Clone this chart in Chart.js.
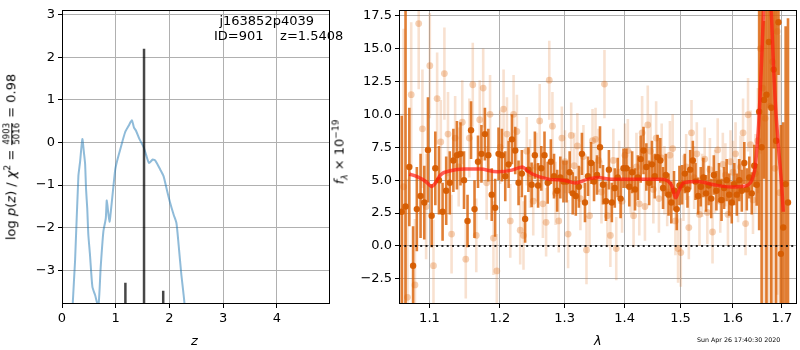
<!DOCTYPE html>
<html lang="en">
<head>
<meta charset="UTF-8">
<title>j163852p4039 redshift fit</title>
<script src="https://cdn.jsdelivr.net/npm/chart.js"></script>
<style>
  body { margin: 0; background: #fff; }
  #wrap { position: relative; width: 800px; height: 350px; font-family: 'DejaVu Sans', sans-serif; color: #000; }
  canvas { position: absolute; top: 0; }
  .lbl { position: absolute; white-space: nowrap; font-size: 13px; }
  .rot { transform: translate(-50%, -50%) rotate(-90deg); }
  .frac { display: inline-flex; flex-direction: column; vertical-align: middle; font-size: 8.5px; line-height: 9px; text-align: center; margin: 0 1px; }
  .frac span:first-child { border-bottom: 1px solid #000; }
  sup, sub { font-size: 9px; }
</style>
</head>
<body>
<div id="wrap">
  <canvas id="pzChart" width="340" height="350" style="left:0"></canvas>
  <canvas id="specChart" width="460" height="350" style="left:340px"></canvas>

  <div class="lbl rot" style="left:12px; top:157px;">log <i>p</i>(<i>z</i>) / <i>χ</i><sup>2</sup> = <span class="frac"><span>4903</span><span>5016</span></span> = 0.98</div>
  <div class="lbl" style="left:191px; top:333px;"><i>z</i></div>
  <div class="lbl" style="left:214px; top:13px; width:100px; text-align:right; line-height:15px; white-space:pre;">j163852p4039
ID=901    z=1.5408</div>

  <div class="lbl rot" style="left:340px; top:152px;"><i>f</i><sub><i>λ</i></sub> × 10<sup>−19</sup></div>
  <div class="lbl" style="left:594px; top:333px;"><i>λ</i></div>
  <div class="lbl" style="left:697px; top:336px; font-size:6.3px;">Sun Apr 26 17:40:30 2020</div>
</div>

<script>
// ---- p(z) panel ----
const zGrid = [0.15, 0.20, 0.243, 0.305, 0.336, 0.379, 0.41, 0.43, 0.448, 0.47, 0.49, 0.52, 0.566, 0.616, 0.677,
  0.72, 0.77, 0.815, 0.834, 0.883, 0.927, 0.99, 1.03, 1.08, 1.175, 1.24, 1.30, 1.34, 1.38, 1.44, 1.52, 1.57,
  1.62, 1.69, 1.74, 1.83, 1.89, 1.95, 2.01, 2.08, 2.13, 2.17, 2.22, 2.28, 2.33];
const logPz = [-5.5, -3.78, -2.78, -0.79, -0.46, 0.08, -0.26, -0.5, -1.10, -1.55, -2.16, -2.62, -3.39, -3.58, -3.85,
  -2.93, -2.09, -1.78, -1.36, -1.86, -1.40, -0.64, -0.41, -0.18, 0.24, 0.39, 0.52, 0.35, 0.27, 0.085, -0.11, -0.31,
  -0.48, -0.40, -0.43, -0.64, -0.79, -1.10, -1.40, -1.70, -1.89, -2.39, -3.08, -3.78, -5.0];
const zTicks = [0, 1, 2, 3, 4];
const pzTicks = [-3, -2, -1, 0, 1, 2, 3];

// sharp peaks of the fitted p(z)
const peakZ = [1.18, 1.527, 1.884];
const peakTop = [-3.29, 2.2, -3.48];

// ---- spectrum panel ----
const waveDark = [1.063, 1.068, 1.073, 1.078, 1.083, 1.088, 1.093, 1.098,
  1.103, 1.108, 1.113, 1.118, 1.123, 1.128, 1.133, 1.138, 1.143, 1.148, 1.153, 1.158, 1.163, 1.168, 1.173, 1.178, 1.183, 1.188, 1.193, 1.198,
  1.203, 1.208, 1.213, 1.218, 1.223, 1.228, 1.233, 1.238, 1.243, 1.248, 1.253, 1.258, 1.263, 1.268, 1.273, 1.278, 1.283, 1.288, 1.293, 1.298,
  1.303, 1.308, 1.313, 1.318, 1.323, 1.328, 1.333, 1.338, 1.343, 1.348, 1.353, 1.358, 1.363, 1.368, 1.373, 1.378, 1.383, 1.388, 1.393, 1.398,
  1.403, 1.408, 1.413, 1.418, 1.423, 1.428, 1.433, 1.438, 1.443, 1.448, 1.453, 1.458, 1.463, 1.468, 1.473, 1.478, 1.483, 1.488, 1.493, 1.498,
  1.503, 1.508, 1.513, 1.518, 1.523, 1.528, 1.533, 1.538, 1.543, 1.548, 1.553, 1.558, 1.563, 1.568, 1.573, 1.578, 1.583, 1.588, 1.593, 1.598,
  1.603, 1.608, 1.613, 1.618, 1.623, 1.628, 1.633, 1.638, 1.643, 1.648, 1.653, 1.658, 1.663, 1.668, 1.673, 1.678, 1.683, 1.688, 1.693, 1.698,
  1.703, 1.708, 1.713];
const fluxDark = [2.6, 3.0, 6.0, -1.5, 2.8, 3.8, 3.3, 7.3,
  2.3, 5.9, 5.0, 2.6, 4.2, 4.8, 6.5, 6.9, 7.0, 5.0, 1.9, 8.8, 2.8, 6.4, 7.0, 8.5, 6.9, 3.9, 2.9, 7.0,
  6.9, 5.3, 6.2, 8.1, 7.25, 4.8, 5.5, 2.05, 5.8, 4.65, 6.9, 4.6, 5.9, 6.9, 4.8, 6.4, 5.3, 4.2, 5.2, 4.9,
  4.9, 5.6, 4.0, 3.8, 4.5, 7.0, 3.3, 5.3, 6.3, 4.9, 5.4, 7.5, 4.65, 3.4, 5.8, 3.3, 4.4, 5.2, 3.6, 5.9,
  5.9, 4.5, 5.6, 4.3, 5.2, 6.6, 7.25, 6.0, 4.8, 6.2, 5.3, 6.75, 6.5, 4.4, 5.4, 3.9, 3.3, 4.2, 2.8, 4.6,
  4.65, 5.5, 4.3, 5.8, 6.5, 4.9, 3.8, 4.5, 5.2, 4.0, 4.6, 3.6, 5.4, 4.2, 4.8, 3.5, 4.4, 5.0, 3.9, 3.3,
  4.7, 3.9, 5.0, 4.2, 6.3, 4.3, 5.2, 4.0, 6.1, 4.65, 10.2, 7.5, 11.1, 11.5, 15.5, 10.5, 13.4, 8.0, 17.0, -0.6,
  1.4, 4.7, 3.3];
const errDark = [7.3, 25, 4.5, 3.0, 3.2, 3.2, 2.8, 4.0,
  2.4, 2.8, 2.6, 2.2, 2.6, 2.4, 2.4, 2.6, 2.4, 2.2, 2.0, 2.2, 2.2, 2.0, 2.2, 2.0, 2.0, 2.0, 2.2, 2.0,
  2.0, 1.9, 1.8, 1.9, 1.8, 1.7, 1.8, 1.8, 1.7, 1.7, 1.8, 1.7, 1.7, 1.8, 1.6, 1.7, 1.7, 1.6, 1.6, 1.6,
  1.6, 1.6, 1.6, 1.5, 1.6, 1.6, 1.5, 1.5, 1.6, 1.5, 1.5, 1.6, 1.5, 1.5, 1.5, 1.5, 1.5, 1.5, 1.5, 1.5,
  1.5, 1.5, 1.6, 1.6, 1.7, 1.8, 1.8, 1.8, 1.7, 1.8, 1.7, 1.7, 1.7, 1.6, 1.6, 1.6, 1.6, 1.5, 1.6, 1.5,
  1.5, 1.5, 1.4, 1.5, 1.5, 1.4, 1.4, 1.5, 1.5, 1.4, 1.5, 1.5, 1.5, 1.5, 1.5, 1.6, 1.6, 1.6, 1.6, 1.6,
  1.6, 1.6, 1.6, 1.6, 1.6, 1.6, 1.6, 1.6, 1.6, 1.6, 9, 25, 6, 30, 5, 25, 6, 30, 4, 9.8,
  8, 12, 14];

const waveLight = [1.0655, 1.0705, 1.0755, 1.0805, 1.0855, 1.0905, 1.0955, 1.1005,
  1.1055, 1.1105, 1.1155, 1.1205, 1.1255, 1.1305, 1.1355, 1.1405, 1.1455, 1.1505, 1.1555, 1.1605, 1.1655, 1.1705, 1.1755, 1.1805, 1.1855, 1.1905, 1.1955, 1.2005,
  1.2055, 1.2105, 1.2155, 1.2205, 1.2255, 1.2305, 1.2355, 1.2405, 1.2455, 1.2505, 1.2555, 1.2605, 1.2655, 1.2705, 1.2755, 1.2805, 1.2855, 1.2905, 1.2955, 1.3005,
  1.3055, 1.3105, 1.3155, 1.3205, 1.3255, 1.3305, 1.3355, 1.3405, 1.3455, 1.3505, 1.3555, 1.3605, 1.3655, 1.3705, 1.3755, 1.3805, 1.3855, 1.3905, 1.3955, 1.4005,
  1.4055, 1.4105, 1.4155, 1.4205, 1.4255, 1.4305, 1.4355, 1.4405, 1.4455, 1.4505, 1.4555, 1.4605, 1.4655, 1.4705, 1.4755, 1.4805, 1.4855, 1.4905, 1.4955, 1.5005,
  1.5055, 1.5105, 1.5155, 1.5205, 1.5255, 1.5305, 1.5355, 1.5405, 1.5455, 1.5505, 1.5555, 1.5605, 1.5655, 1.5705, 1.5755, 1.5805, 1.5855, 1.5905, 1.5955, 1.6005,
  1.6055, 1.6105, 1.6155, 1.6205, 1.6255, 1.6305, 1.6355, 1.6405, 1.6455, 1.6505, 1.6555, 1.6605, 1.6655, 1.6705, 1.6755, 1.6805, 1.6855, 1.6905, 1.6955];
const fluxLight = [4.5, -3.9, 11.5, -2.96, 16.9, 8.9, 3.0, 13.7,
  -1.5, 11.2, 7.9, 13.1, 8.5, 0.9, 8.2, 6.0, 9.4, -1.0, 8.2, 12.25, 0.8, 9.6, 12.0, 4.8, 10.0, 0.6, -1.9, 7.5,
  10.4, 8.5, 1.9, 10.0, 8.7, 1.2, 0.8, 7.2, 5.5, 3.4, 6.0, 9.5, 3.2, 1.8, 12.6, 9.1, 4.0, 1.9, 8.2, 6.4,
  0.9, 8.4, 6.1, 7.6, 3.6, 6.8, -0.3, 2.3, 8.0, 8.1, 6.5, 4.1, 12.3, 2.3, 0.8, 6.5, -0.2, 5.6, 3.4, 6.9,
  7.25, 4.9, 2.3, 6.0, 3.2, 8.6, 3.0, 9.2, 7.2, 4.3, 8.2, 3.6, 6.7, 5.0, 4.1, 6.9, 7.4, 1.9, -0.2, -0.5,
  4.4, 6.0, 1.4, 8.6, 5.2, 7.0, 2.4, 4.6, 6.6, 2.55, 5.8, 1.06, 4.9, 7.3, 3.4, 6.2, 5.4, 2.4, 6.4, 5.6,
  7.0, 4.2, 6.0, 8.6, 1.7, 9.97, 7.7, 3.5, 5.5, 8.0, 15.0, 12.0, 9.7, 20.0, 10.6, 14.0, 5.9, 16.3, 4.05];
const errLight = [12, 9, 5.5, 5, 5, 4.5, 4, 4,
  3.5, 3.5, 3.2, 3.5, 3.2, 3.0, 3.2, 3.0, 3.2, 3.0, 3.0, 3.2, 2.8, 3.0, 3.0, 2.8, 3.0, 2.8, 2.8, 2.8,
  3.0, 2.8, 2.8, 3.0, 2.8, 2.6, 2.6, 2.6, 2.6, 2.6, 2.6, 2.8, 2.6, 2.6, 3.0, 2.6, 2.4, 2.4, 2.4, 2.4,
  2.6, 2.5, 2.5, 2.5, 2.4, 2.4, 2.6, 2.4, 2.4, 2.4, 2.4, 2.4, 2.6, 2.4, 2.4, 2.4, 2.4, 2.4, 2.4, 2.4,
  2.4, 2.4, 2.4, 2.6, 2.4, 2.8, 2.6, 3.0, 2.8, 2.6, 2.8, 2.6, 2.6, 2.6, 2.6, 2.6, 2.6, 2.6, 2.6, 2.6,
  2.5, 2.5, 2.4, 2.5, 2.4, 2.4, 2.4, 2.4, 2.4, 2.4, 2.4, 2.4, 2.4, 2.4, 2.4, 2.4, 2.4, 2.4, 2.4, 2.4,
  2.4, 2.4, 2.4, 2.6, 2.4, 2.8, 2.6, 2.6, 3.0, 4.0, 8.0, 30, 30, 30, 30, 30, 25, 20, 12];

const waveModel = [1.073, 1.084, 1.095, 1.103, 1.108, 1.115, 1.129, 1.148, 1.171, 1.196, 1.218, 1.228, 1.234, 1.241,
  1.249, 1.274, 1.300, 1.317, 1.338, 1.355, 1.377, 1.397, 1.464, 1.476, 1.484, 1.491, 1.497, 1.506, 1.532, 1.563,
  1.597, 1.622, 1.635, 1.640, 1.645, 1.649, 1.652, 1.655, 1.659, 1.663, 1.667, 1.671, 1.675, 1.679, 1.683, 1.687,
  1.693, 1.700, 1.703];
const fluxModel = [5.47, 5.25, 4.9, 4.52, 4.77, 5.4, 5.72, 5.84, 5.84, 5.64, 5.76, 5.93, 6.0, 5.73,
  5.47, 5.08, 4.98, 4.78, 5.08, 5.2, 5.07, 5.07, 5.07, 4.95, 4.58, 3.66, 4.2, 4.8, 4.9, 4.65,
  4.48, 4.53, 4.78, 5.2, 6.0, 7.7, 9.2, 11.5, 15.0, 18.5, 19.5, 20.5, 19.5, 17.0, 13.3, 10.5,
  7.5, 4.4, 2.6];

const waveTicks = [1.1, 1.2, 1.3, 1.4, 1.5, 1.6, 1.7];
const fluxTicks = [-2.5, 0, 2.5, 5, 7.5, 10, 12.5, 15, 17.5];

Chart.defaults.font.family = "'DejaVu Sans', sans-serif";
Chart.defaults.font.size = 13;
Chart.defaults.color = '#000';
Chart.defaults.animation = false;

const minus = s => String(s).replace('-', '\u2212');
const zip = (xs, ys) => xs.map((x, i) => ({x: x, y: ys[i]}));
const fixTicks = list => function (s) { s.ticks = list.map(v => ({value: v})); };

// black box round the axes
const frame = {
  id: 'frame',
  afterDatasetsDraw(chart) {
    const {ctx, chartArea: a} = chart;
    ctx.save();
    ctx.strokeStyle = '#000';
    ctx.lineWidth = 1;
    ctx.strokeRect(Math.floor(a.left) + 0.5, Math.floor(a.top) + 0.5,
      Math.round(a.right - a.left), Math.round(a.bottom - a.top));
    ctx.restore();
  }
};

// vertical error bars, drawn just before the markers of their dataset
const errorBars = {
  id: 'errorBars',
  beforeDatasetDraw(chart, args) {
    const ds = chart.data.datasets[args.index];
    if (!ds.errs) return;
    const {ctx, chartArea: a, scales: {x, y}} = chart;
    ctx.save();
    ctx.beginPath();
    ctx.rect(a.left, a.top, a.right - a.left, a.bottom - a.top);
    ctx.clip();
    ctx.strokeStyle = ds.barColor;
    ctx.lineWidth = ds.barWidth;
    ds.data.forEach((p, i) => {
      const px = x.getPixelForValue(p.x);
      ctx.beginPath();
      ctx.moveTo(px, y.getPixelForValue(p.y - ds.errs[i]));
      ctx.lineTo(px, y.getPixelForValue(p.y + ds.errs[i]));
      ctx.stroke();
    });
    ctx.restore();
  }
};

function gridOpts() {
  return {color: '#b0b0b0', lineWidth: 1, tickColor: '#000', tickLength: 4, drawTicks: true};
}

// p(z) peaks as vertical strokes, broken with nulls
const peakData = [];
peakZ.forEach((z, i) => {
  peakData.push({x: z, y: -4}, {x: z, y: peakTop[i]}, {x: z, y: null});
});

new Chart(document.getElementById('pzChart'), {
  type: 'scatter',
  data: {
    datasets: [
      {
        data: peakData, showLine: true, spanGaps: false, pointRadius: 0,
        borderColor: 'rgba(0,0,0,0.72)', borderWidth: 2.5, clip: 0, order: 1
      },
      {
        data: zip(zGrid, logPz), showLine: true, pointRadius: 0, tension: 0.2,
        borderColor: 'rgba(31,119,180,0.5)', borderWidth: 2, clip: 0, order: 2
      }
    ]
  },
  options: {
    responsive: false,
    layout: {padding: {top: 3, right: 11, left: 0, bottom: 0}},
    plugins: {legend: {display: false}, tooltip: {enabled: false}},
    scales: {
      x: {
        type: 'linear', min: 0, max: 4.97, bounds: 'data',
        afterBuildTicks: fixTicks(zTicks),
        ticks: {autoSkip: false, maxRotation: 0, padding: 3, callback: v => minus(v)},
        grid: gridOpts(), border: {display: false},
        afterFit(s) { s.height = 46; }
      },
      y: {
        type: 'linear', min: -3.79, max: 3.09, bounds: 'data',
        afterBuildTicks: fixTicks(pzTicks),
        ticks: {autoSkip: false, padding: 3, callback: v => minus(v)},
        grid: gridOpts(), border: {display: false},
        afterFit(s) { s.width = 62; }
      }
    }
  },
  plugins: [frame]
});

new Chart(document.getElementById('specChart'), {
  type: 'scatter',
  data: {
    datasets: [
      {
        data: [{x: 1.0594, y: 0}, {x: 1.730, y: 0}], showLine: true, pointRadius: 0,
        borderColor: 'rgba(0,0,0,0.85)', borderWidth: 2, borderDash: [2, 3.3], clip: 0, order: 1
      },
      {
        data: zip(waveModel, fluxModel), showLine: true, pointRadius: 0, cubicInterpolationMode: 'monotone',
        borderColor: 'rgba(255,25,15,0.7)', borderWidth: 3.5, clip: 0, order: 2
      },
      {
        data: zip(waveDark, fluxDark), errs: errDark, barColor: 'rgba(217,95,2,0.8)', barWidth: 2.6,
        pointRadius: 3.2, pointBackgroundColor: 'rgba(214,92,0,0.95)', pointBorderWidth: 0, clip: 0, order: 3
      },
      {
        data: zip(waveLight, fluxLight), errs: errLight, barColor: 'rgba(225,120,40,0.22)', barWidth: 2.6,
        pointRadius: 3.4, pointBackgroundColor: 'rgba(225,120,40,0.35)', pointBorderWidth: 0, clip: 0, order: 4
      }
    ]
  },
  options: {
    responsive: false,
    layout: {padding: {top: 3, right: 1, left: 0, bottom: 0}},
    plugins: {legend: {display: false}, tooltip: {enabled: false}},
    scales: {
      x: {
        type: 'logarithmic', min: 1.0594, max: 1.730, bounds: 'data',
        afterBuildTicks: fixTicks(waveTicks),
        ticks: {autoSkip: false, maxRotation: 0, padding: 3, callback: v => Number(v).toFixed(1)},
        grid: gridOpts(), border: {display: false},
        afterFit(s) { s.height = 46; }
      },
      y: {
        type: 'linear', min: -4.41, max: 17.87, bounds: 'data',
        afterBuildTicks: fixTicks(fluxTicks),
        ticks: {autoSkip: false, padding: 3, callback: v => minus(Number(v).toFixed(1))},
        grid: gridOpts(), border: {display: false},
        afterFit(s) { s.width = 59; }
      }
    }
  },
  plugins: [errorBars, frame]
});
</script>
</body>
</html>
